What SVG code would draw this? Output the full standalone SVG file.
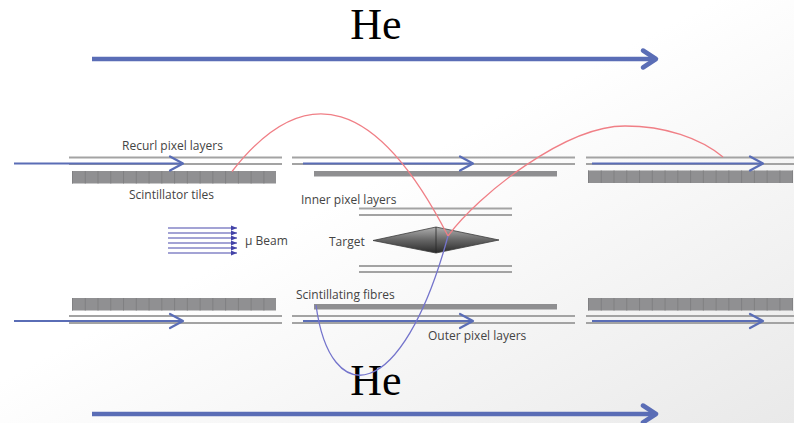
<svg xmlns="http://www.w3.org/2000/svg" width="794" height="423" viewBox="0 0 794 423">
  <defs>
    <linearGradient id="bg" x1="0" y1="0" x2="1" y2="1">
      <stop offset="0.45" stop-color="#ffffff"/>
      <stop offset="1" stop-color="#e9e9e9"/>
    </linearGradient>
    <linearGradient id="targetFill" x1="0" y1="0" x2="0" y2="1">
      <stop offset="0" stop-color="#b0b0b0"/>
      <stop offset="0.5" stop-color="#666666"/>
      <stop offset="1" stop-color="#2a2a2a"/>
    </linearGradient>
    <marker id="chevThin" markerUnits="userSpaceOnUse" orient="auto" overflow="visible" markerWidth="1" markerHeight="1">
      <path d="M-13,-7 L0,0 L-13,7" fill="none" stroke="#5a6db6" stroke-width="2.2" stroke-linecap="round" stroke-linejoin="round"/>
    </marker>
    <marker id="chevThick" markerUnits="userSpaceOnUse" orient="auto" overflow="visible" markerWidth="1" markerHeight="1">
      <path d="M-13,-8.5 L0,0 L-13,8.5" fill="none" stroke="#5a6db6" stroke-width="4.5" stroke-linecap="round" stroke-linejoin="round"/>
    </marker>
    <marker id="beamHead" markerUnits="userSpaceOnUse" orient="auto" overflow="visible" markerWidth="1" markerHeight="1">
      <path d="M-6,-2.6 L0,0 L-6,2.6 Z" fill="#4343a8"/>
    </marker>
  </defs>
  <style>
    .lbl { font-family: "Open Sans", "Liberation Sans", sans-serif; font-size: 12px; fill: #444444; }
    .he { font-family: "Liberation Serif", "Times New Roman", serif; font-size: 44px; fill: #000; text-anchor: middle; }
    .layer { stroke: #a3a3a3; stroke-width: 2; fill: none; }
    .tile { fill: #909092; }
    .tileSep { stroke: #808082; stroke-width: 12.5; stroke-dasharray: 1 11.76; }
    .bar { fill: #8f8f91; }
    .flow { stroke: #5a6db6; stroke-width: 2.2; fill: none; marker-end: url(#chevThin); }
    .heflow { stroke: #5a6db6; stroke-width: 4.5; fill: none; marker-end: url(#chevThick); }
    .beam { stroke: #4848ac; stroke-width: 1.2; marker-end: url(#beamHead); }
    .posTrack { stroke: #f07f86; stroke-width: 1.3; fill: none; }
    .eTrack { stroke: #7474cc; stroke-width: 1.3; fill: none; }
  </style>

  <rect width="794" height="423" fill="url(#bg)"/>

  <!-- upper helium flow -->
  <g id="he-top">
    <text class="he" x="376" y="39">He</text>
  </g>

  <!-- upper recurl stations -->
  <g id="recurl-upstream-top">
    <line class="layer" x1="69" y1="157.5" x2="282" y2="157.5"/>
    <line class="layer" x1="69" y1="164" x2="282" y2="164"/>
    <rect class="tile" x="72" y="171" width="204" height="12.5"/>
    <line class="tileSep" x1="72" y1="177.25" x2="276" y2="177.25"/>
    <text class="lbl" x="122" y="150">Recurl pixel layers</text>
    <text class="lbl" x="129" y="199">Scintillator tiles</text>
  </g>
  <g id="central-top">
    <line class="layer" x1="292" y1="157.5" x2="575" y2="157.5"/>
    <line class="layer" x1="292" y1="164" x2="575" y2="164"/>
    <rect class="bar" x="314" y="171" width="243" height="5.5"/>
  </g>
  <g id="recurl-downstream-top">
    <line class="layer" x1="586" y1="157.5" x2="794" y2="157.5"/>
    <line class="layer" x1="586" y1="164" x2="794" y2="164"/>
    <rect class="tile" x="588" y="170.5" width="205" height="12.5"/>
    <line class="tileSep" x1="588" y1="176.75" x2="793" y2="176.75"/>
  </g>

  <!-- inner pixel layers and target -->
  <g id="inner-pixel">
    <line class="layer" x1="359" y1="208.5" x2="512" y2="208.5"/>
    <line class="layer" x1="359" y1="215" x2="512" y2="215"/>
    <line class="layer" x1="359" y1="266" x2="512" y2="266"/>
    <line class="layer" x1="359" y1="272" x2="512" y2="272"/>
    <text class="lbl" x="301" y="204">Inner pixel layers</text>
  </g>
  <g id="target">
    <path d="M373,240.5 L436,227 L499,240 L436,253 Z" fill="url(#targetFill)" stroke="#3c3c3c" stroke-width="0.8"/>
    <line x1="436" y1="227" x2="436" y2="253" stroke="#2a2a2a" stroke-width="0.8"/>
    <text class="lbl" x="329" y="246">Target</text>
  </g>

  <!-- muon beam -->
  <g id="mu-beam">
    <line class="beam" x1="168" y1="228" x2="237" y2="228"/>
    <line class="beam" x1="168" y1="233" x2="237" y2="233"/>
    <line class="beam" x1="168" y1="238" x2="237" y2="238"/>
    <line class="beam" x1="168" y1="243" x2="237" y2="243"/>
    <line class="beam" x1="168" y1="248" x2="237" y2="248"/>
    <line class="beam" x1="168" y1="253" x2="237" y2="253"/>
    <text class="lbl" x="245" y="245">μ Beam</text>
  </g>

  <!-- lower stations -->
  <g id="recurl-upstream-bottom">
    <rect class="tile" x="72" y="298" width="204" height="12.5"/>
    <line class="tileSep" x1="72" y1="304.25" x2="276" y2="304.25"/>
    <line class="layer" x1="69" y1="316" x2="282" y2="316"/>
    <line class="layer" x1="69" y1="323" x2="282" y2="323"/>
  </g>
  <g id="central-bottom">
    <rect class="bar" x="314" y="304" width="243" height="5.5"/>
    <line class="layer" x1="292" y1="316" x2="575" y2="316"/>
    <line class="layer" x1="292" y1="323" x2="575" y2="323"/>
    <text class="lbl" x="296" y="299">Scintillating fibres</text>
    <text class="lbl" x="428" y="340">Outer pixel layers</text>
  </g>
  <g id="recurl-downstream-bottom">
    <rect class="tile" x="588" y="298" width="205" height="12.5"/>
    <line class="tileSep" x1="588" y1="304.25" x2="793" y2="304.25"/>
    <line class="layer" x1="586" y1="316" x2="794" y2="316"/>
    <line class="layer" x1="586" y1="323" x2="794" y2="323"/>
  </g>

  <!-- lower helium flow -->
  <g id="he-bottom">
    <text class="he" x="376" y="395">He</text>
  </g>

  <!-- flows and particle tracks -->
  <g id="connectors">
    <line class="heflow" x1="92" y1="59" x2="656" y2="59"/>
    <line class="heflow" x1="92" y1="414" x2="656" y2="414"/>

    <line class="flow" x1="14" y1="163.5" x2="183" y2="163.5"/>
    <line class="flow" x1="303" y1="163.5" x2="473" y2="163.5"/>
    <line class="flow" x1="592" y1="163.5" x2="763" y2="163.5"/>
    <line class="flow" x1="14" y1="321" x2="183" y2="321"/>
    <line class="flow" x1="303" y1="321" x2="473" y2="321"/>
    <line class="flow" x1="592" y1="321" x2="763" y2="321"/>

    <path class="posTrack" d="M232,171.5 Q342,30 448,236"/>
    <path class="posTrack" d="M448,236 C478,195 565,126 625,126 C665,126 700,138 723,157"/>
    <path class="eTrack" d="M316,305 C330,410 402,405 448,236"/>
  </g>
</svg>
